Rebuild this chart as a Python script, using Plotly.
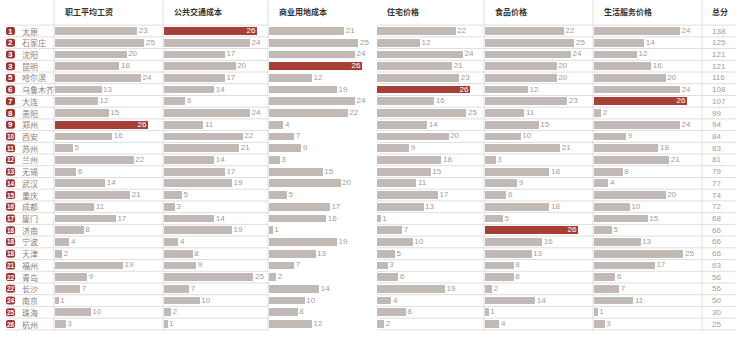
import plotly.graph_objects as go

cities = ["太原", "石家庄", "沈阳", "昆明", "哈尔滨", "乌鲁木齐", "大连", "贵阳", "郑州", "西安",
          "苏州", "兰州", "无锡", "武汉", "重庆", "成都", "厦门", "济南", "宁波", "天津",
          "福州", "青岛", "长沙", "南京", "珠海", "杭州"]
ranks = [1, 2, 3, 3, 5, 6, 7, 8, 9, 10, 11, 12, 13, 14, 15, 16, 17, 18, 18, 18, 21, 22, 22, 24, 25, 26]
wage = [23, 25, 20, 18, 24, 13, 12, 15, 26, 16, 5, 22, 6, 14, 21, 11, 17, 8, 4, 2, 19, 9, 7, 1, 10, 3]
transit = [26, 24, 17, 20, 17, 14, 6, 24, 11, 22, 21, 14, 17, 19, 5, 3, 14, 19, 4, 8, 9, 25, 7, 10, 2, 1]
commercial_land = [21, 25, 24, 26, 12, 19, 24, 22, 4, 7, 9, 3, 15, 20, 5, 17, 16, 1, 19, 13, 7, 2, 14, 10, 8, 12]
housing = [22, 12, 24, 21, 23, 26, 16, 25, 14, 20, 9, 18, 15, 11, 17, 13, 1, 7, 10, 5, 3, 6, 19, 4, 8, 2]
food = [22, 25, 24, 20, 20, 12, 23, 11, 15, 10, 21, 3, 18, 9, 6, 18, 5, 26, 16, 13, 8, 8, 2, 14, 1, 4]
services = [24, 14, 12, 16, 20, 24, 26, 2, 24, 9, 18, 21, 8, 4, 20, 10, 15, 5, 13, 25, 17, 6, 7, 11, 1, 3]
totals = [138, 125, 121, 121, 116, 108, 107, 99, 94, 84, 83, 81, 79, 77, 74, 72, 68, 66, 66, 66, 63, 56, 56, 50, 30, 25]
headers = ["职工平均工资", "公共交通成本", "商业用地成本", "住宅价格", "食品价格", "生活服务价格"]
total_header = "总分"

series = [wage, transit, commercial_land, housing, food, services]

W, H = 740, 338
ROW0, DY = 31, 11.72
Y_TOP = -ROW0 / DY
Y_BOT = (H - ROW0) / DY
COL_X = [54, 163, 268, 376, 484, 593]
TOTAL_X = 702
COL_W = 108
PX_PER_UNIT = 93 / 26
XMAX = COL_W / PX_PER_UNIT
GREY = "#c0b9b6"
RED = "#a63f36"
BADGE = "#9a3530"
LINE = "#dedede"
TXT = "#a29c9a"
FONT = "Noto Sans CJK SC"

idx = list(range(len(cities)))
fig = go.Figure()
layout = {}
for k, vals in enumerate(series):
    ax = "" if k == 0 else str(k + 1)
    colors = [RED if v == 26 else GREY for v in vals]
    fig.add_trace(go.Bar(x=vals, y=idx, orientation="h", marker=dict(color=colors, line=dict(width=0)),
                         width=0.66, xaxis="x" + ax, yaxis="y", hoverinfo="skip", showlegend=False))
    gx = [v for v in vals if v != 26]
    gy = [i for i, v in zip(idx, vals) if v != 26]
    fig.add_trace(go.Scatter(x=gx, y=gy, text=["\u2009" + str(v) for v in gx], mode="text",
                             textposition="middle right", textfont=dict(size=8, color=TXT, family="Liberation Sans"),
                             xaxis="x" + ax, yaxis="y", hoverinfo="skip", showlegend=False))
    rx = [v for v in vals if v == 26]
    ry = [i for i, v in zip(idx, vals) if v == 26]
    fig.add_trace(go.Scatter(x=rx, y=ry, text=[str(v) + "\u2009" for v in rx], mode="text",
                             textposition="middle left", textfont=dict(size=8, color="white", family="Liberation Sans"),
                             xaxis="x" + ax, yaxis="y", hoverinfo="skip", showlegend=False))
    layout["xaxis" + ax] = dict(domain=[(COL_X[k] + 1) / W, (COL_X[k] + 1 + COL_W) / W], range=[0, XMAX],
                                visible=False, anchor="y", fixedrange=True)

annotations = []
for k, h in enumerate(headers):
    annotations.append(dict(x=(COL_X[k] + 9) / W, y=1 - 11 / H, xref="paper", yref="paper", text=h,
                            showarrow=False, xanchor="left", yanchor="middle",
                            font=dict(size=8, color="#333333", family=FONT, weight="bold")))
annotations.append(dict(x=(TOTAL_X + 8) / W, y=1 - 11 / H, xref="paper", yref="paper", text=total_header,
                        showarrow=False, xanchor="left", yanchor="middle",
                        font=dict(size=8, color="#333333", family=FONT, weight="bold")))

shapes = []
for i, (c, r, t) in enumerate(zip(cities, ranks, totals)):
    annotations.append(dict(x=20 / W, y=i, xref="paper", yref="y", text=c, showarrow=False,
                            xanchor="left", yanchor="middle", font=dict(size=8, color="#858080", family=FONT)))
    annotations.append(dict(x=10.5 / W, y=i, xref="paper", yref="y", text=str(r), showarrow=False,
                            xanchor="center", yanchor="middle",
                            font=dict(size=8 if r < 10 else 6.5, color="white", family="Liberation Sans", weight="bold")))
    annotations.append(dict(x=(TOTAL_X + 8) / W, y=i, xref="paper", yref="y", text=str(t), showarrow=False,
                            xanchor="left", yanchor="middle", font=dict(size=8, color=TXT, family="Liberation Sans")))
    x0, x1 = 6 / W, 15 / W
    y0, y1 = i - 4 / DY, i + 4 / DY
    rx_, ry_ = 2 / W, 2 / DY
    path = (f"M {x0+rx_},{y0} L {x1-rx_},{y0} Q {x1},{y0} {x1},{y0+ry_} L {x1},{y1-ry_} "
            f"Q {x1},{y1} {x1-rx_},{y1} L {x0+rx_},{y1} Q {x0},{y1} {x0},{y1-ry_} L {x0},{y0+ry_} "
            f"Q {x0},{y0} {x0+rx_},{y0} Z")
    shapes.append(dict(type="path", path=path, xref="paper", yref="y", fillcolor=BADGE,
                       line=dict(width=0), layer="above"))

for i in range(len(cities) + 1):
    shapes.append(dict(type="line", xref="paper", yref="y", x0=5 / W, x1=736 / W, y0=i - 0.5, y1=i - 0.5,
                       line=dict(color=LINE, width=1), layer="below"))
for cx in COL_X + [TOTAL_X]:
    shapes.append(dict(type="line", xref="paper", yref="paper", x0=cx / W, x1=cx / W, y0=1 - 331 / H, y1=1,
                       line=dict(color=LINE, width=1), layer="below"))

fig.update_layout(
    width=W, height=H, margin=dict(l=0, r=0, t=0, b=0),
    paper_bgcolor="white", plot_bgcolor="white",
    yaxis=dict(range=[Y_BOT, Y_TOP], visible=False, domain=[0, 1], fixedrange=True),
    annotations=annotations, shapes=shapes, bargap=0, showlegend=False,
    font=dict(family=FONT),
    **layout,
)
fig.write_html("out.html")
